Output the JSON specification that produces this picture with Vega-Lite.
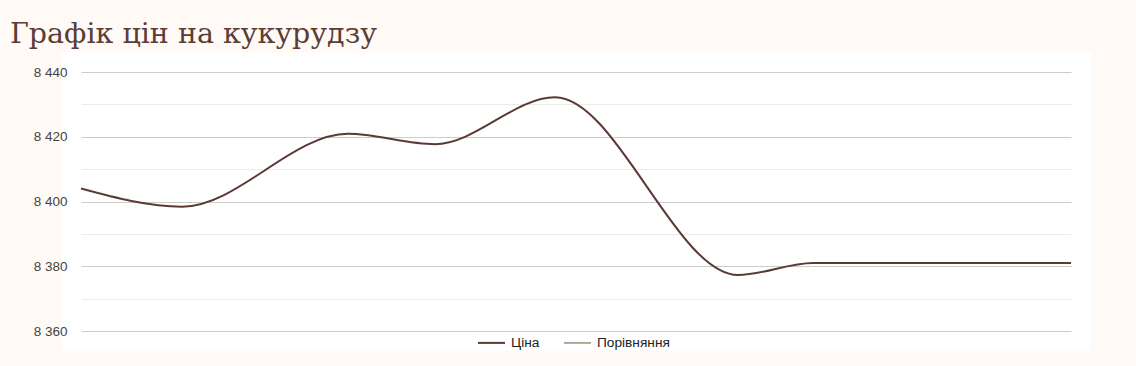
{
  "$schema": "https://vega.github.io/schema/vega-lite/v6.json",
  "autosize": {"type": "none"},
  "width": 990,
  "height": 259,
  "padding": {"left": 81, "top": 72, "right": 65, "bottom": 35},
  "background": "#fffaf5",
  "title": {
    "text": "Графік цін на кукурудзу",
    "anchor": "start",
    "frame": "group",
    "font": "DejaVu Serif",
    "fontSize": 28.5,
    "fontWeight": "normal",
    "color": "#5a3d37",
    "baseline": "alphabetic",
    "offset": 0,
    "dx": -71,
    "dy": 6
  },
  "config": {
    "view": {"fill": "#ffffff", "stroke": "#ffffff", "strokeWidth": 40},
    "font": "Liberation Sans"
  },
  "data": {
    "values": [
      {"t": 0, "price": 8404, "series": "Ціна"},
      {"t": 10.1, "price": 8398.4, "series": "Ціна"},
      {"t": 26.7, "price": 8420.9, "series": "Ціна"},
      {"t": 35.4, "price": 8417.7, "series": "Ціна"},
      {"t": 47.4, "price": 8432.2, "series": "Ціна"},
      {"t": 65.7, "price": 8377.3, "series": "Ціна"},
      {"t": 73.2, "price": 8381, "series": "Ціна"},
      {"t": 99, "price": 8381, "series": "Ціна"}
    ]
  },
  "mark": {"type": "line", "interpolate": "monotone", "strokeWidth": 2},
  "encoding": {
    "x": {
      "field": "t",
      "type": "quantitative",
      "scale": {"domain": [0, 99], "nice": false, "zero": false},
      "axis": null
    },
    "y": {
      "field": "price",
      "type": "quantitative",
      "scale": {"domain": [8360, 8440], "nice": false, "zero": false},
      "axis": {
        "title": null,
        "values": [8360, 8370, 8380, 8390, 8400, 8410, 8420, 8430, 8440],
        "labelExpr": "datum.value % 20 === 0 ? replace(format(datum.value, ','), ',', ' ') : ''",
        "labelFont": "Liberation Sans",
        "labelFontSize": 13.5,
        "labelColor": "#444444",
        "labelPadding": 14,
        "ticks": false,
        "domain": false,
        "grid": true,
        "gridColor": {"condition": {"test": "datum.value % 20 === 0", "value": "#cccccc"}, "value": "#ebebeb"},
        "gridWidth": 1
      }
    },
    "color": {
      "field": "series",
      "type": "nominal",
      "scale": {"domain": ["Ціна", "Порівняння"], "range": ["#5b3a35", "#a9ab99"]},
      "legend": {
        "title": null,
        "orient": "none",
        "direction": "horizontal",
        "legendX": 396,
        "legendY": 256,
        "symbolType": "stroke",
        "symbolSize": 729,
        "symbolStrokeWidth": 2,
        "labelFont": "Liberation Sans",
        "labelFontSize": 13.7,
        "labelColor": "#222222",
        "labelOffset": 5,
        "columnPadding": 20
      }
    }
  }
}
